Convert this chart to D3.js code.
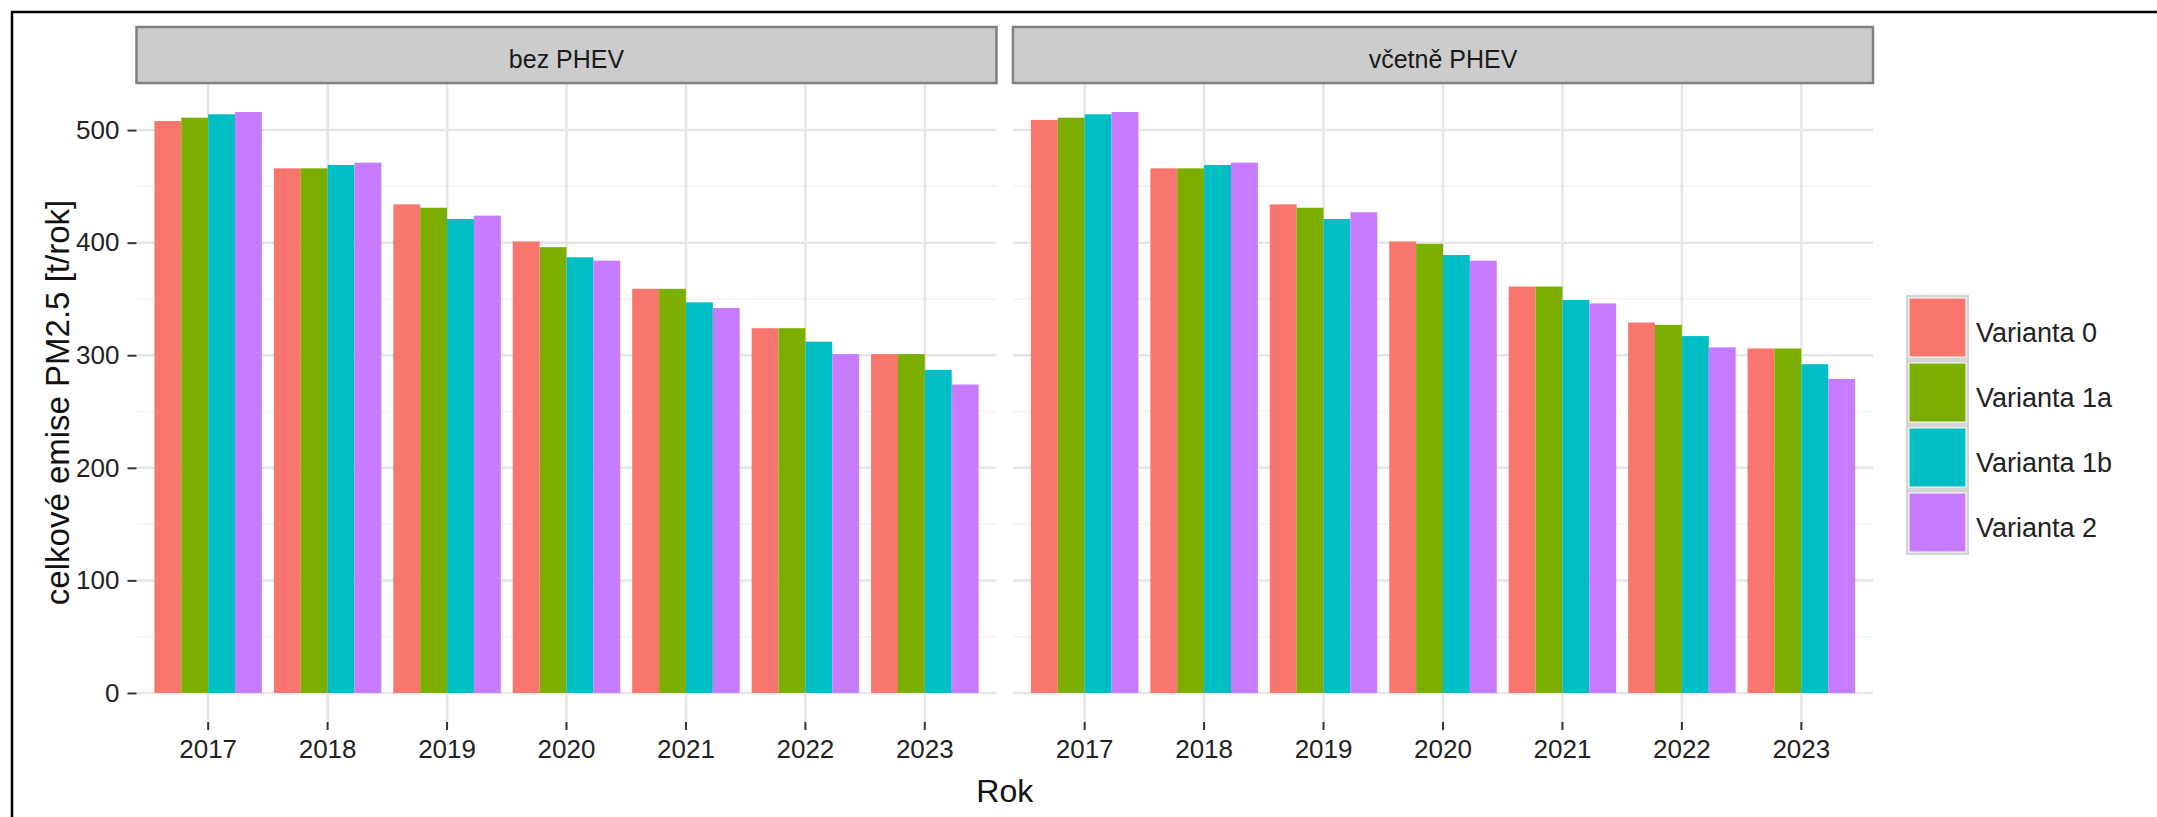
<!DOCTYPE html>
<html lang="cs">
	<head>
		<meta charset="utf-8">
		<title>Celkové emise PM2.5</title>
		<script src="https://cdn.jsdelivr.net/npm/d3@7/dist/d3.min.js"></script>
		<style type="text/css">
			body { margin: 0; background: #fff; }
			text { font-family: "Liberation Sans", Arial, sans-serif; }
		</style>
	</head>
	<body>

		<div id="chart"></div>

		<script type="text/javascript">

		// data
		var years = ["2017", "2018", "2019", "2020", "2021", "2022", "2023"]
		var variants = ["Varianta 0", "Varianta 1a", "Varianta 1b", "Varianta 2"]
		var facets = ["bez PHEV", "včetně PHEV"]
		var colors = ["#F8766D", "#7CAE00", "#00BFC4", "#C77CFF"]

		var bez_v0  = [508, 466, 434, 401, 359, 324, 301]
		var bez_v1a = [511, 466, 431, 396, 359, 324, 301]
		var bez_v1b = [514, 469, 421, 387, 347, 312, 287]
		var bez_v2  = [516, 471, 424, 384, 342, 301, 274]

		var vc_v0  = [509, 466, 434, 401, 361, 329, 306]
		var vc_v1a = [511, 466, 431, 399, 361, 327, 306]
		var vc_v1b = [514, 469, 421, 389, 349, 317, 292]
		var vc_v2  = [516, 471, 427, 384, 346, 307, 279]

		var yTicks = [0, 100, 200, 300, 400, 500]
		var yMinor = [50, 150, 250, 350, 450]

		var facetValues = [
			[bez_v0, bez_v1a, bez_v1b, bez_v2],
			[vc_v0, vc_v1a, vc_v1b, vc_v2]
		]

		var w = 2157
		var h = 817
		var panelW = 860
		var panelLefts = [136.5, 1013]
		var panelTop = 83
		var panelBottom = 722
		var stripTop = 27

		var svg = d3.select("#chart")
			.append("svg")
			.attr("width", w)
			.attr("height", h)

		// frame of the screenshot
		svg.append("path")
			.attr("d", "M12,817 L12,12 L2157,12")
			.attr("fill", "none")
			.attr("stroke", "#000")
			.attr("stroke-width", 2.5)

		var maxVal = d3.max(facetValues, function(f){ return d3.max(f, function(s){ return d3.max(s) }) })

		var yScale = d3.scaleLinear()
			.domain([-0.05 * maxVal, 1.05 * maxVal])
			.range([panelBottom, panelTop])

		var vScale = d3.scaleBand()
			.domain(variants)

		facets.forEach(function(facet, fi){
			var left = panelLefts[fi]

			var xScale = d3.scaleBand()
				.domain(years)
				.range([left, left + panelW])
				.paddingInner(0.1)
				.paddingOuter(0.15)

			vScale.range([0, xScale.bandwidth()])

			var g = svg.append("g")

			// grid
			g.selectAll(".minor")
				.data(yMinor)
				.enter()
				.append("line")
				.attr("x1", left)
				.attr("x2", left + panelW)
				.attr("y1", function(d){ return yScale(d) })
				.attr("y2", function(d){ return yScale(d) })
				.attr("stroke", "#f3f3f3")
				.attr("stroke-width", 1.5)

			g.selectAll(".major")
				.data(yTicks)
				.enter()
				.append("line")
				.attr("x1", left)
				.attr("x2", left + panelW)
				.attr("y1", function(d){ return yScale(d) })
				.attr("y2", function(d){ return yScale(d) })
				.attr("stroke", "#e6e6e6")
				.attr("stroke-width", 2.5)

			g.selectAll(".vgrid")
				.data(years)
				.enter()
				.append("line")
				.attr("x1", function(d){ return xScale(d) + xScale.bandwidth() / 2 })
				.attr("x2", function(d){ return xScale(d) + xScale.bandwidth() / 2 })
				.attr("y1", panelTop)
				.attr("y2", panelBottom)
				.attr("stroke", "#e6e6e6")
				.attr("stroke-width", 2.5)

			// bars
			facetValues[fi].forEach(function(series, si){
				g.selectAll(".bar" + si)
					.data(series)
					.enter()
					.append("rect")
					.attr("x", function(d, i){ return xScale(years[i]) + vScale(variants[si]) })
					.attr("y", function(d){ return yScale(d) })
					.attr("width", vScale.bandwidth())
					.attr("height", function(d){ return yScale(0) - yScale(d) })
					.style("fill", colors[si])
			})

			// strip
			g.append("rect")
				.attr("x", left)
				.attr("y", stripTop)
				.attr("width", panelW)
				.attr("height", panelTop - stripTop)
				.attr("fill", "#cccccc")
				.attr("stroke", "#808080")
				.attr("stroke-width", 2.5)

			g.append("text")
				.attr("x", left + panelW / 2)
				.attr("y", 68)
				.attr("text-anchor", "middle")
				.attr("fill", "#1a1a1a")
				.style("font-size", "25px")
				.text(facet)

			// x axis
			var xAxis = d3.axisBottom(xScale)
				.tickSize(8)
				.tickPadding(10)

			var xg = g.append("g")
				.attr("transform", "translate(0," + panelBottom + ")")
				.call(xAxis)
			xg.select(".domain").remove()
			xg.selectAll("line").attr("stroke", "#333").attr("stroke-width", 2)
			xg.selectAll("text").attr("fill", "#222").style("font-size", "26px").style("font-family", "Liberation Sans, Arial, sans-serif")

			if (fi === 0) {
				var yAxis = d3.axisLeft(yScale)
					.tickValues(yTicks)
					.tickSize(9)
					.tickPadding(8)

				var yg = g.append("g")
					.attr("transform", "translate(" + left + ",0)")
					.call(yAxis)
				yg.select(".domain").remove()
				yg.selectAll("line").attr("stroke", "#333").attr("stroke-width", 2)
				yg.selectAll("text").attr("fill", "#222").style("font-size", "26px").style("font-family", "Liberation Sans, Arial, sans-serif")
			}
		})

		// axis titles
		svg.append("text")
			.attr("x", (panelLefts[0] + panelLefts[1] + panelW) / 2)
			.attr("y", 802)
			.attr("text-anchor", "middle")
			.attr("fill", "#111")
			.style("font-size", "32px")
			.text("Rok")

		svg.append("text")
			.attr("transform", "translate(69," + ((panelTop + panelBottom) / 2) + ") rotate(-90)")
			.attr("text-anchor", "middle")
			.attr("fill", "#111")
			.style("font-size", "33px")
			.text("celkové emise PM2.5 [t/rok]")

		// legend
		var legX = 1906
		var legY = 295
		var keyH = 65
		var keyW = 63

		var leg = svg.append("g")

		leg.append("rect")
			.attr("x", legX)
			.attr("y", legY)
			.attr("width", keyW)
			.attr("height", keyH * variants.length)
			.attr("fill", "#d4d4d4")

		leg.selectAll(".key")
			.data(variants)
			.enter()
			.append("rect")
			.attr("x", legX + 3)
			.attr("y", function(d, i){ return legY + i * keyH + 3 })
			.attr("width", keyW - 6)
			.attr("height", keyH - 6)
			.attr("fill", function(d, i){ return colors[i] })
			.attr("stroke", "#ffffff")
			.attr("stroke-width", 1)

		leg.selectAll(".lab")
			.data(variants)
			.enter()
			.append("text")
			.attr("x", legX + keyW + 7)
			.attr("y", function(d, i){ return legY + i * keyH + keyH / 2 + 14 })
			.attr("fill", "#222")
			.style("font-size", "27px")
			.text(function(d){ return d })

		</script>
	</body>
</html>
